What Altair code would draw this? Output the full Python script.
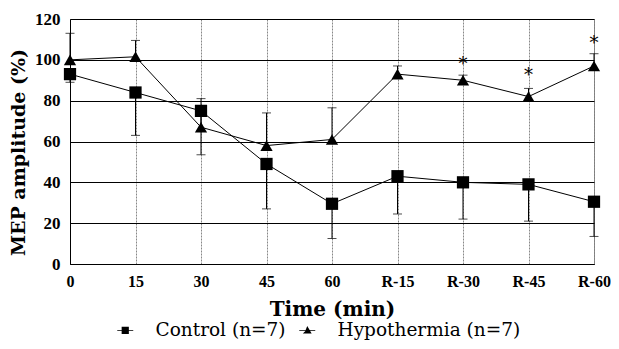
import altair as alt
import pandas as pd

times = ["0", "15", "30", "45", "60", "R-15", "R-30", "R-45", "R-60"]
control = [93, 84, 75, 49, 29.5, 43, 40, 39, 30.5]
control_sd = [4, 21, 21.5, 22, 17, 18.5, 18, 18, 17]
hypo = [100, 101.5, 67, 58, 61, 93, 90, 82, 97]
hypo_sd = [13, 8, 14, 16, 15.5, 4, 2.5, 4, 6]
star_times = ["R-30", "R-45", "R-60"]
star_y = [97.5, 92, 108]
series_names = ["Control (n=7)", "Hypothermia (n=7)"]

rows = []
for t, m, s in zip(times, control, control_sd):
    rows.append({"time": t, "series": series_names[0], "mean": m, "lo": m - s, "hi": m, "end": m - s})
for t, m, s in zip(times, hypo, hypo_sd):
    rows.append({"time": t, "series": series_names[1], "mean": m, "lo": m, "hi": m + s, "end": m + s})
df = pd.DataFrame(rows)
stars = pd.DataFrame({"time": star_times, "y": star_y, "t": ["*"] * 3})

TICKFONT = "Liberation Serif"
TITLEFONT = "DejaVu Serif"
xenc = alt.X("time:O", sort=times, scale=alt.Scale(type="point", padding=0),
             axis=alt.Axis(title="Time (min)", labelAngle=0, labelFont=TICKFONT, labelFontSize=16,
                           labelFontWeight="bold", labelColor="black", titleFont=TITLEFONT,
                           titleFontSize=20, titleFontWeight="bold", titleColor="black",
                           titlePadding=10, labelPadding=9, ticks=False, domainColor="black",
                           grid=True, gridColor="#888", gridDash=[2, 1], gridWidth=1))
yscale = alt.Scale(domain=[0, 120])
yaxis = alt.Axis(title="MEP amplitude (%)", values=[0, 20, 40, 60, 80, 100, 120],
                 labelFont=TICKFONT, labelFontSize=17, labelFontWeight="bold", labelColor="black",
                 titleFont=TITLEFONT, titleFontSize=19, titleFontWeight="bold", titleColor="black",
                 titlePadding=6, labelPadding=10, ticks=False, domainColor="black",
                 gridColor="black", gridWidth=1, titleY=133)

base = alt.Chart(df)
lines = base.mark_line(strokeWidth=1, color="black").encode(
    x=xenc, y=alt.Y("mean:Q", scale=yscale, axis=yaxis), detail="series:N")
bars = base.mark_rule(color="black", strokeWidth=1).encode(
    x=alt.X("time:O", sort=times), y="lo:Q", y2="hi:Q")
caps = base.mark_tick(color="black", thickness=1, size=9, orient="horizontal").encode(
    x=alt.X("time:O", sort=times), y="end:Q")
pts = base.mark_point(filled=True, opacity=1, size=150, color="black").encode(
    x=alt.X("time:O", sort=times), y="mean:Q",
    shape=alt.Shape("series:N", scale=alt.Scale(domain=series_names,
                                                 range=["square", "triangle-up"]),
                    legend=None))
legend_layer = base.mark_point(filled=True, opacity=0, size=10, color="black").encode(
    x=alt.X("time:O", sort=times), y="mean:Q",
    shape=alt.Shape("series:N", scale=alt.Scale(
        domain=series_names,
        range=["M-1,-0.06H-0.45V-0.45H0.45V-0.06H1V0.06H0.45V0.45H-0.45V0.06H-1Z",
               "M-1,-0.06H-0.2L0,-0.55L0.55,0.4H-0.55L-0.2,0.06H-1ZM0.2,-0.06H1V0.06H0.2Z"]),
        legend=alt.Legend(title=None, orient="none", legendX=46, legendY=302,
                          direction="horizontal", labelFont=TITLEFONT, labelFontSize=18.5,
                          labelOffset=21, columnPadding=12)))
star = alt.Chart(stars).mark_text(font=TITLEFONT, fontSize=18, color="black", baseline="middle").encode(
    x=alt.X("time:O", sort=times), y="y:Q", text="t:N")

chart = alt.layer(lines, bars, caps, pts, star, legend_layer).resolve_scale(
    shape="independent").properties(
    width=524, height=245, background="white",
    autosize=alt.AutoSizeParams(type="none"),
    padding={"left": 62, "top": 11, "right": 17, "bottom": 77},
).configure(font=TITLEFONT).configure_view(stroke="#777", strokeWidth=1).configure_legend(
    labelFont=TITLEFONT, labelFontSize=18.5, labelColor="black", labelLimit=400,
    symbolFillColor="black", symbolOpacity=1, symbolStrokeWidth=0, symbolSize=256,
)

chart.save("out.html", embed_options={"renderer": "svg", "actions": False})
